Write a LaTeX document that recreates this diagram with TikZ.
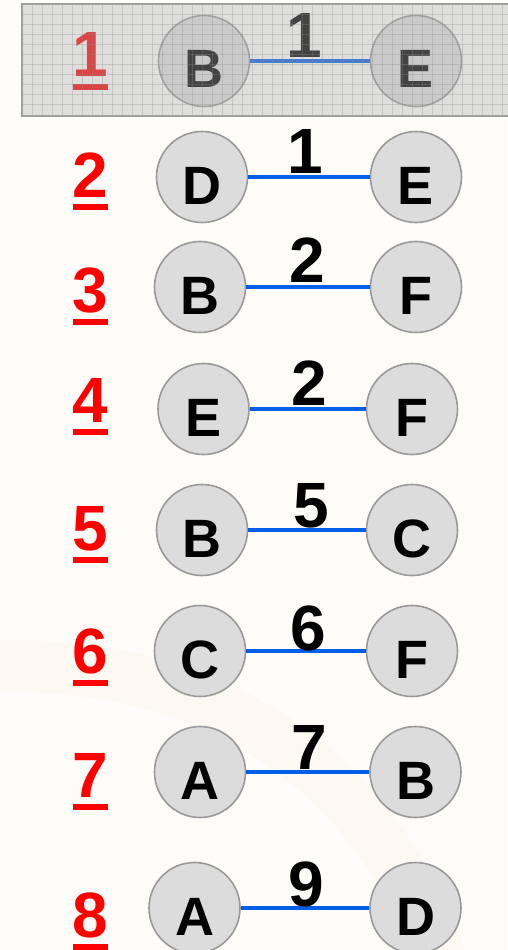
\documentclass[tikz,border=0pt]{standalone}
\usepackage{fontspec}
\setmainfont{Liberation Sans}[BoldFont={Liberation Sans Bold}]
\definecolor{bgc}{HTML}{FDFCF9}
\definecolor{vfill}{HTML}{DCDCDC}
\definecolor{vborder}{HTML}{999999}
\definecolor{edgeblue}{HTML}{005FE6}
\definecolor{ordred}{HTML}{FF0000}
\definecolor{ovg}{RGB}{175,175,175}
\definecolor{gridc}{RGB}{140,140,140}
\definecolor{boxborder}{HTML}{A0A0A0}
\definecolor{swoosh}{HTML}{F7A030}
\begin{document}
\begin{tikzpicture}[x=1pt,y=-1pt,
  vert/.style={circle, draw=vborder, fill=vfill, line width=1.6pt, minimum size=91pt, inner sep=0pt},
  vlet/.style={anchor=base, inner sep=0pt, font=\bfseries\fontsize{54}{54}\selectfont},
  wt/.style={anchor=base, inner sep=0pt, font=\bfseries\fontsize{64}{64}\selectfont},
  ord/.style={anchor=base, inner sep=0pt, text=ordred, font=\bfseries\fontsize{64}{64}\selectfont},
  wedge/.style={draw=edgeblue, line width=4.5pt}]
\useasboundingbox (0,0) rectangle (507,950);
\fill[bgc] (0,0) rectangle (507,950);
% faint background swoosh
\draw[swoosh, opacity=0.03, line width=52pt] (-30,668) .. controls (220,650) and (390,780) .. (450,990);
% rows
\foreach \n/\yc/\xl/\xr/\la/\lb/\w/\wx/\wb/\lbase in {
  1/61/204/416/B/E/1/304/57/77,
  2/177/202/416/D/E/1/305/173/197,
  3/287/200/416/B/F/2/307.5/282/312,
  4/409/203.5/412/E/F/2/309/405/422,
  5/530/202/412/B/C/5/311.5/527/550,
  6/651/200/412/C/F/6/308/650/673,
  7/772/200/415.5/A/B/7/309.5/769/797,
  8/908/194.5/415.5/A/D/9/306.5/906/937}{
  \node[vert] (u\n) at (\xl,\yc) {};
  \node[vert] (v\n) at (\xr,\yc) {};
  \node[vlet] (tu\n) at ([yshift=-27pt]u\n.center) {\la};
  \node[vlet] (tv\n) at ([yshift=-27pt]v\n.center) {\lb};
  \draw[wedge] (u\n) -- (v\n);
  \node[wt] (w\n) at (\wx,\wb) {\w};
  \node[ord] (o\n) at (90,\lbase) {\n};
  \fill[ordred] ([xshift=-17.5pt,yshift=-6.5pt]o\n.base) rectangle ([xshift=17.5pt,yshift=-12.5pt]o\n.base);
}
% highlight overlay on first row
\fill[ovg, opacity=0.39] (22,4) rectangle (512,116);
\foreach \gx in {32,42,...,502} \draw[gridc, opacity=0.3, line width=0.6pt] (\gx,4) -- (\gx,116);
\foreach \gy in {14,24,...,110} \draw[gridc, opacity=0.3, line width=0.6pt] (22,\gy) -- (512,\gy);
\draw[boxborder, line width=2pt] (22,4) rectangle (512,116);
\end{tikzpicture}
\end{document}
